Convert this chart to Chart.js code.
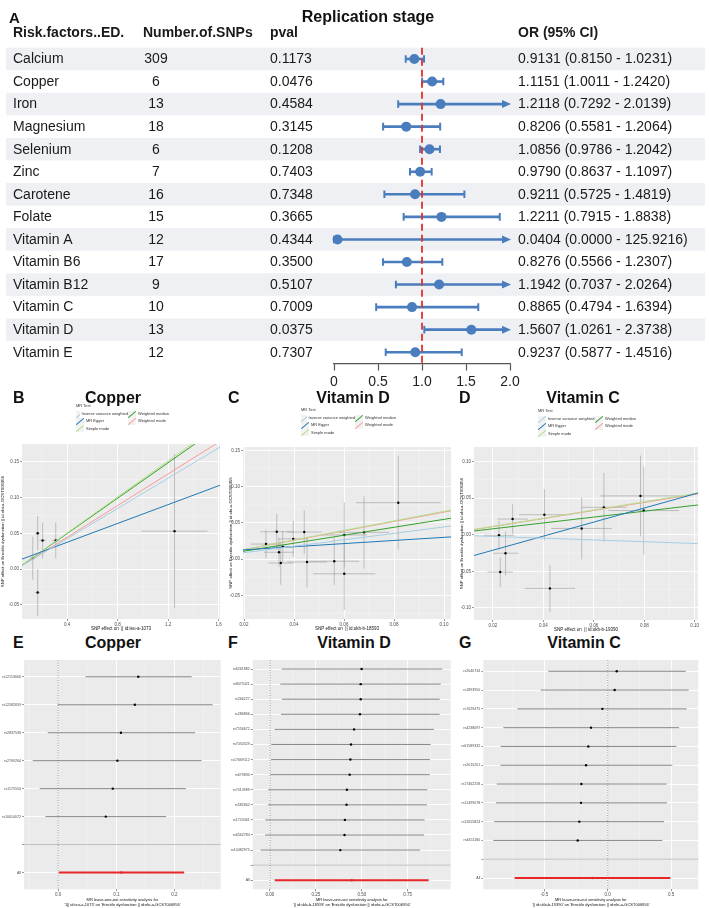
<!DOCTYPE html>
<html lang="en">
<head>
<meta charset="UTF-8">
<title>Replication stage</title>
<style>
  * { box-sizing: border-box; }
  body { margin: 0; background: #fff; font-family: 'Liberation Sans', Arial, Helvetica, sans-serif; color: #111; }
  #page { position: relative; width: 709px; height: 908px; overflow: hidden; }
  .box { position: absolute; }
  .box canvas { display: block; }
  .tag { position: absolute; font-weight: bold; font-size: 16px; line-height: 1; }
  .ttl { position: absolute; font-weight: bold; font-size: 16px; line-height: 1; transform: translateX(-50%); white-space: nowrap; }
  .mrleg { position: absolute; font-size: 4px; line-height: 1; color: #333; }
  .mrleg .lh { margin-bottom: 2.5px; }
  .mrleg .lg { display: grid; grid-auto-flow: column; grid-template-rows: repeat(3, 7.3px); }
  .mrleg .it { display: flex; align-items: center; white-space: nowrap; }
  .mrleg .k { position: relative; width: 8px; height: 7px; background: #f2f2f2; margin-right: 2px; overflow: hidden; }
  .mrleg .k i { position: absolute; left: -1px; top: 3px; width: 10px; height: 0.8px; transform: rotate(-40deg); }
</style>
<script src="https://cdn.jsdelivr.net/npm/chart.js"></script>
</head>
<body>
<div id="page">
  <div class="tag" style="left:9px;top:10px;font-size:15px">A</div>
  <div class="ttl" style="left:368px;top:9px">Replication stage</div>
  <div class="tag" style="left:13px;top:390px">B</div>
  <div class="ttl" style="left:113px;top:390px">Copper</div>
  <div class="tag" style="left:228px;top:390px">C</div>
  <div class="ttl" style="left:353px;top:390px">Vitamin D</div>
  <div class="tag" style="left:459px;top:390px">D</div>
  <div class="ttl" style="left:583px;top:390px">Vitamin C</div>
  <div class="tag" style="left:13px;top:635px">E</div>
  <div class="ttl" style="left:113px;top:635px">Copper</div>
  <div class="tag" style="left:228px;top:635px">F</div>
  <div class="ttl" style="left:354px;top:635px">Vitamin D</div>
  <div class="tag" style="left:459px;top:635px">G</div>
  <div class="ttl" style="left:584px;top:635px">Vitamin C</div>
</div>

<script>
  // ---------- Panel A: replication stage forest table ----------
  const factors = ['Calcium', 'Copper', 'Iron', 'Magnesium', 'Selenium', 'Zinc', 'Carotene', 'Folate',
    'Vitamin A', 'Vitamin B6', 'Vitamin B12', 'Vitamin C', 'Vitamin D', 'Vitamin E'];
  const nSnps = [309, 6, 13, 18, 6, 7, 16, 15, 12, 17, 9, 10, 13, 12];
  const pvals = [0.1173, 0.0476, 0.4584, 0.3145, 0.1208, 0.7403, 0.7348, 0.3665, 0.4344, 0.3500, 0.5107, 0.7009, 0.0375, 0.7307];
  const orVals = [0.9131, 1.1151, 1.2118, 0.8206, 1.0856, 0.9790, 0.9211, 1.2211, 0.0404, 0.8276, 1.1942, 0.8865, 1.5607, 0.9237];
  const orLow = [0.8150, 1.0011, 0.7292, 0.5581, 0.9786, 0.8637, 0.5725, 0.7915, 0.0000, 0.5566, 0.7037, 0.4794, 1.0261, 0.5877];
  const orHigh = [1.0231, 1.2420, 2.0139, 1.2064, 1.2042, 1.1097, 1.4819, 1.8838, 125.9216, 1.2307, 2.0264, 1.6394, 2.3738, 1.4516];
  const orTicks = [0, 0.5, 1, 1.5, 2];

  // ---------- MR scatter panels ----------
  const mrMethods = ['Inverse variance weighted', 'MR Egger', 'Simple mode', 'Weighted median', 'Weighted mode'];
  const mrColors = ['#a6cee3', '#1f78b4', '#b2df8a', '#33a02c', '#fb9a99'];

  const cuBx = [0.128, 0.167, 0.206, 0.31, 1.25, 0.167];
  const cuBy = [0.015, 0.05, 0.04, 0.04, 0.053, -0.033];
  const cuSeX = [0.02, 0.02, 0.025, 0.03, 0.26, 0.02];
  const cuSeY = [0.03, 0.024, 0.025, 0.025, 0.108, 0.033];
  const cuSlope = [0.106, 0.066, 0.126, 0.124, 0.111];
  const cuIntercept = [0, 0.011, 0, 0, 0];

  const vdBx = [0.0288, 0.0331, 0.0355, 0.034, 0.0347, 0.0397, 0.0441, 0.0452, 0.0561, 0.0601, 0.068, 0.0817, 0.0601];
  const vdBy = [0.0208, 0.0378, 0.0172, 0.0095, -0.0054, 0.028, 0.0374, -0.004, -0.003, 0.0334, 0.037, 0.078, -0.0203];
  const vdSeX = [0.006, 0.0066, 0.005, 0.006, 0.005, 0.006, 0.007, 0.008, 0.01, 0.009, 0.01, 0.017, 0.0124];
  const vdSeY = [0.02, 0.025, 0.022, 0.02, 0.03, 0.025, 0.03, 0.035, 0.033, 0.045, 0.05, 0.065, 0.05];
  const vdSlope = [0.445, 0.216, 0.66, 0.55, 0.65];
  const vdIntercept = [0, 0.0085, 0, 0, 0];

  const vcBx = [0.0224, 0.025, 0.0278, 0.0404, 0.0552, 0.064, 0.0785, 0.0798, 0.0229, 0.0426];
  const vcBy = [-0.0008, -0.0253, 0.0213, 0.0272, 0.0085, 0.0373, 0.0529, 0.0329, -0.051, -0.0733];
  const vcSeX = [0.006, 0.005, 0.006, 0.01, 0.012, 0.009, 0.016, 0.014, 0.005, 0.01];
  const vcSeY = [0.02, 0.03, 0.02, 0.035, 0.042, 0.047, 0.055, 0.06, 0.02, 0.032];
  const vcSlope = [-0.12, 0.96, 0.56, 0.40, 0.55];
  const vcIntercept = [0, -0.0404, 0, 0, 0];

  // ---------- leave-one-out panels ----------
  const cuSnps = ['rs12153606', 'rs12582659', 'rs2837536', 'rs2769264', 'rs1175550', 'rs10014072'];
  const cuLooB = [0.138, 0.132, 0.108, 0.102, 0.094, 0.082];
  const cuLooLo = [0.047, -0.001, -0.018, -0.044, -0.032, -0.022];
  const cuLooHi = [0.23, 0.266, 0.236, 0.247, 0.22, 0.186];
  const cuAll = [0.109, 0.001, 0.217];

  const vdSnps = ['rs6261882', 'rs8075421', 'rs266227', 'rs286866', 'rs7556672', 'rs7450329', 'rs17669112',
    'rs679830', 'rs7013989', 'rs582662', 'rs1720361', 'rs6562784', 'rs10482975'];
  const vdLooB = [0.499, 0.494, 0.494, 0.49, 0.458, 0.441, 0.438, 0.434, 0.419, 0.417, 0.408, 0.406, 0.383];
  const vdLooLo = [0.064, 0.056, 0.065, 0.06, 0.025, 0.007, 0.006, 0.002, -0.009, -0.011, -0.025, -0.027, -0.051];
  const vdLooHi = [0.938, 0.93, 0.924, 0.924, 0.893, 0.875, 0.871, 0.87, 0.857, 0.855, 0.842, 0.839, 0.817];
  const vdAll = [0.445, 0.026, 0.864];

  const vcSnps = ['rs2040734', 'rs1893950', 'rs7029475', 'rs4238097', 'rs61589332', 'rs2015201', 'rs17462258',
    'rs11499078', 'rs11655824', 'rs4451180'];
  const vcLooB = [0.071, 0.055, -0.042, -0.132, -0.153, -0.171, -0.208, -0.211, -0.224, -0.237];
  const vcLooLo = [-0.469, -0.529, -0.713, -0.824, -0.845, -0.847, -0.876, -0.882, -0.895, -0.903];
  const vcLooHi = [0.616, 0.639, 0.623, 0.563, 0.542, 0.51, 0.466, 0.468, 0.444, 0.431];
  const vcAll = [-0.1205, -0.735, 0.494];

  const FONT = "'Liberation Sans', Arial, Helvetica, sans-serif";
  const BLUE = '#4a7dbd';
  const outcomeId = 'Erectile dysfunction || id:ebi-a-GCST006956';
  Chart.defaults.font.family = FONT;
  Chart.defaults.color = '#4d4d4d';

  const page = document.getElementById('page');

  // canvas placed so that its chart area lands on the given page box
  function mount(p) {
    const W = Math.round(p.r - p.l + p.wy + p.pr);
    const H = Math.round(p.b - p.t + p.hx);
    const wrap = document.createElement('div');
    wrap.className = 'box';
    wrap.style.left = (p.l - p.wy) + 'px';
    wrap.style.top = p.t + 'px';
    const cv = document.createElement('canvas');
    cv.width = W; cv.height = H;
    cv.style.width = W + 'px'; cv.style.height = H + 'px';
    wrap.appendChild(cv);
    page.insertBefore(wrap, page.firstChild);
    return { cv, padR: W - (p.r - p.l) - p.wy, axisH: H - (p.b - p.t) };
  }

  // grey ggplot panel + minor grid lines
  const ggPanel = {
    id: 'ggPanel',
    beforeDraw(chart, args, opts) {
      const { ctx, chartArea: a } = chart;
      ctx.save();
      ctx.fillStyle = '#ebebeb';
      ctx.fillRect(a.left, a.top, a.right - a.left, a.bottom - a.top);
      ctx.strokeStyle = '#f7f7f7';
      ctx.lineWidth = 0.5;
      (opts.minor || []).forEach(key => {
        const s = chart.scales[key];
        const t = s.ticks.map(k => k.value);
        if (t.length < 2) return;
        const step = t[1] - t[0];
        [t[0] - step / 2, ...t.map(v => v + step / 2)].forEach(v => {
          if (v < Math.min(s.min, s.max) || v > Math.max(s.min, s.max)) return;
          const px = s.getPixelForValue(v);
          ctx.beginPath();
          if (s.isHorizontal()) { ctx.moveTo(px, a.top); ctx.lineTo(px, a.bottom); }
          else { ctx.moveTo(a.left, px); ctx.lineTo(a.right, px); }
          ctx.stroke();
        });
      });
      ctx.restore();
    }
  };

  function axisX(o) {
    return {
      type: 'linear', min: o.min, max: o.max,
      ticks: { stepSize: o.step, includeBounds: false, autoSkip: false, maxRotation: 0, padding: 1,
        font: { size: 4.5 }, color: '#4d4d4d', callback: v => Number(v).toFixed(o.dec) },
      grid: { color: '#fff', lineWidth: 0.9, tickLength: 2, tickColor: '#333', tickWidth: 0.5 },
      border: { display: false },
      title: { display: true, text: o.title, font: { size: o.tsize || 4.5, lineHeight: 1.15 }, color: '#111', padding: { top: 1, bottom: 0 } },
      afterFit: s => { s.height = o.h; }
    };
  }

  // ---------- Panel A ----------
  (function () {
    const { cv } = mount({ l: 0, r: 709, t: 0, b: 395, wy: 0, pr: 0, hx: 0 });
    const forestA = {
      id: 'forestA',
      beforeDraw(chart) {
        const { ctx, scales: { y } } = chart;
        const h = Math.abs(y.getPixelForValue(1) - y.getPixelForValue(0));
        ctx.save();
        ctx.fillStyle = '#eef0f3';
        factors.forEach((f, i) => {
          if (i % 2) return;
          ctx.fillRect(6, y.getPixelForValue(i) - h / 2, 699, h);
        });
        ctx.restore();
      },
      beforeDatasetsDraw(chart) {
        const { ctx, chartArea: a, scales: { x, y } } = chart;
        ctx.save();
        ctx.strokeStyle = BLUE; ctx.fillStyle = BLUE;
        factors.forEach((f, i) => {
          const yc = y.getPixelForValue(i);
          const clipped = orHigh[i] > x.max;
          const x0 = x.getPixelForValue(Math.max(orLow[i], x.min));
          const x1 = x.getPixelForValue(Math.min(orHigh[i], x.max));
          ctx.lineWidth = 2.6;
          ctx.beginPath(); ctx.moveTo(x0, yc); ctx.lineTo(clipped ? x1 - 6 : x1, yc); ctx.stroke();
          ctx.lineWidth = 2;
          ctx.beginPath();
          ctx.moveTo(x0, yc - 3.8); ctx.lineTo(x0, yc + 3.8);
          if (!clipped) { ctx.moveTo(x1, yc - 3.8); ctx.lineTo(x1, yc + 3.8); }
          ctx.stroke();
          if (clipped) {
            ctx.beginPath();
            ctx.moveTo(x1 + 1, yc); ctx.lineTo(x1 - 8, yc - 4); ctx.lineTo(x1 - 8, yc + 4);
            ctx.closePath(); ctx.fill();
          }
        });
        const xr = x.getPixelForValue(1);
        ctx.strokeStyle = '#e3302f'; ctx.lineWidth = 1.8; ctx.setLineDash([7, 4]);
        ctx.beginPath(); ctx.moveTo(xr, a.top); ctx.lineTo(xr, a.bottom); ctx.stroke();
        ctx.restore();
      },
      afterDraw(chart) {
        const { ctx, chartArea: a, scales: { y } } = chart;
        ctx.save();
        ctx.fillStyle = '#1a1a1a';
        ctx.textBaseline = 'middle';
        ctx.font = 'bold 14px ' + FONT;
        const hy = a.top - 15;
        ctx.textAlign = 'left';
        ctx.fillText('Risk.factors..ED.', 13, hy);
        ctx.fillText('Number.of.SNPs', 143, hy);
        ctx.fillText('pval', 270, hy);
        ctx.fillText('OR (95% CI)', 518, hy);
        ctx.font = '14px ' + FONT;
        factors.forEach((f, i) => {
          const yc = y.getPixelForValue(i) + 0.5;
          ctx.textAlign = 'left';
          ctx.fillText(f, 13, yc);
          ctx.fillText(pvals[i].toFixed(4), 270, yc);
          ctx.fillText(orVals[i].toFixed(4) + ' (' + orLow[i].toFixed(4) + ' - ' + orHigh[i].toFixed(4) + ')', 518, yc);
          ctx.textAlign = 'center';
          ctx.fillText(String(nSnps[i]), 156, yc);
        });
        ctx.restore();
      }
    };
    new Chart(cv, {
      type: 'scatter',
      data: { datasets: [{
        data: orVals.map((v, i) => ({ x: v, y: i })),
        pointRadius: 5, pointHoverRadius: 5, backgroundColor: BLUE, borderWidth: 0, clip: false
      }] },
      options: {
        responsive: false, maintainAspectRatio: false, animation: false, events: [],
        layout: { padding: { left: 334, right: 199, top: 47.7, bottom: 0 } },
        plugins: { legend: { display: false }, tooltip: { enabled: false } },
        scales: {
          y: { type: 'linear', min: -0.5, max: factors.length - 0.5, reverse: true, display: false },
          x: {
            type: 'linear', min: orTicks[0], max: orTicks[orTicks.length - 1],
            afterBuildTicks: s => { s.ticks = orTicks.map(v => ({ value: v })); },
            ticks: { font: { size: 14 }, color: '#222', padding: 3, maxRotation: 0, autoSkip: false },
            grid: { drawOnChartArea: false, tickLength: 7, tickColor: '#555', tickWidth: 1.2 },
            border: { display: true, color: '#555', width: 1.2 },
            afterFit: s => { s.height = 31.5; }
          }
        }
      },
      plugins: [forestA]
    });
  })();

  // ---------- MR scatter plots ----------
  function mrScatter(p) {
    const { cv, padR, axisH } = mount(p);
    const errBars = {
      id: 'errBars',
      beforeDatasetsDraw(chart) {
        const { ctx, chartArea: a, scales: { x, y } } = chart;
        ctx.save();
        ctx.beginPath(); ctx.rect(a.left, a.top, a.right - a.left, a.bottom - a.top); ctx.clip();
        ctx.strokeStyle = '#9c9c9c'; ctx.lineWidth = 0.6;
        p.bx.forEach((v, i) => {
          const px = x.getPixelForValue(v), py = y.getPixelForValue(p.by[i]);
          ctx.beginPath();
          ctx.moveTo(px, y.getPixelForValue(p.by[i] - p.sy[i])); ctx.lineTo(px, y.getPixelForValue(p.by[i] + p.sy[i]));
          ctx.moveTo(x.getPixelForValue(v - p.sx[i]), py); ctx.lineTo(x.getPixelForValue(v + p.sx[i]), py);
          ctx.stroke();
        });
        ctx.restore();
      }
    };
    const lines = mrMethods.map((m, k) => ({
      type: 'line', label: m, order: 0,
      data: [p.xmin, p.xmax].map(v => ({ x: v, y: p.icpt[k] + p.slope[k] * v })),
      borderColor: mrColors[k], borderWidth: 1, pointRadius: 0, clip: 0
    }));
    new Chart(cv, {
      type: 'scatter',
      data: { datasets: [{
        type: 'scatter', order: 1, data: p.bx.map((v, i) => ({ x: v, y: p.by[i] })),
        pointRadius: 1.2, backgroundColor: '#000', borderWidth: 0
      }, ...lines] },
      options: {
        responsive: false, maintainAspectRatio: false, animation: false, events: [],
        layout: { padding: { left: 0, right: padR, top: 0, bottom: 0 } },
        plugins: { legend: { display: false }, tooltip: { enabled: false }, ggPanel: { minor: ['x', 'y'] } },
        scales: {
          x: axisX({ min: p.xmin, max: p.xmax, step: p.xstep, dec: p.xdec, title: p.xtitle, h: axisH }),
          y: {
            type: 'linear', min: p.ymin, max: p.ymax,
            ticks: { stepSize: 0.05, includeBounds: false, autoSkip: false, padding: 1,
              font: { size: 4.5 }, color: '#4d4d4d', callback: v => Number(v).toFixed(2) },
            grid: { color: '#fff', lineWidth: 0.9, tickLength: 2, tickColor: '#333', tickWidth: 0.5 },
            border: { display: false },
            title: { display: true, text: 'SNP effect on ' + outcomeId, font: { size: 4.3 }, color: '#111', padding: 0 },
            afterFit: s => { s.width = p.wy; }
          }
        }
      },
      plugins: [ggPanel, errBars]
    });
    // legend (MR Test)
    const lg = document.createElement('div');
    lg.className = 'mrleg';
    lg.style.left = p.legX + 'px';
    lg.style.top = p.legY + 'px';
    lg.innerHTML = '<div class="lh">MR Test</div><div class="lg" style="grid-template-columns:' + p.legCol + 'px auto">' +
      mrMethods.map((m, k) => '<div class="it"><span class="k"><i style="background:' + mrColors[k] + '"></i></span>' + m + '</div>').join('') +
      '</div>';
    page.appendChild(lg);
  }

  mrScatter({ l: 22, r: 220, t: 440, b: 619, wy: 22, pr: 6, hx: 12,
    xmin: 0.043, xmax: 1.61, xstep: 0.4, xdec: 1, ymin: -0.07, ymax: 0.175,
    xtitle: 'SNP effect on  || id:ieu-a-1073',
    bx: cuBx, by: cuBy, sx: cuSeX, sy: cuSeY, slope: cuSlope, icpt: cuIntercept,
    legX: 76, legY: 404, legCol: 52 });
  mrScatter({ l: 243, r: 451, t: 443, b: 619, wy: 15, pr: 5, hx: 12,
    xmin: 0.0196, xmax: 0.1028, xstep: 0.02, xdec: 2, ymin: -0.0828, ymax: 0.155,
    xtitle: 'SNP effect on  || id:ukb-b-18593',
    bx: vdBx, by: vdBy, sx: vdSeX, sy: vdSeY, slope: vdSlope, icpt: vdIntercept,
    legX: 301, legY: 408, legCol: 54 });
  mrScatter({ l: 474, r: 698, t: 443, b: 620, wy: 15, pr: 6, hx: 12,
    xmin: 0.0125, xmax: 0.1013, xstep: 0.02, xdec: 2, ymin: -0.1164, ymax: 0.1196,
    xtitle: 'SNP effect on  || id:ukb-b-19390',
    bx: vcBx, by: vcBy, sx: vcSeX, sy: vcSeY, slope: vcSlope, icpt: vcIntercept,
    legX: 538, legY: 409, legCol: 57 });

  // ---------- leave-one-out plots ----------
  function looPlot(p) {
    const labels = [...p.snps, '', 'All'];
    const n = labels.length;
    const lo = [...p.lo, null, p.all[1]];
    const hi = [...p.hi, null, p.all[2]];
    const { cv, padR, axisH } = mount(p);
    const looBars = {
      id: 'looBars',
      beforeDatasetsDraw(chart) {
        const { ctx, chartArea: a, scales: { x, y } } = chart;
        ctx.save();
        const yb = y.getPixelForValue(n - 2);
        ctx.strokeStyle = '#bebebe'; ctx.lineWidth = 1;
        ctx.beginPath(); ctx.moveTo(a.left, yb); ctx.lineTo(a.right, yb); ctx.stroke();
        const x0 = x.getPixelForValue(0);
        ctx.strokeStyle = '#555'; ctx.lineWidth = 0.6; ctx.setLineDash([1, 1.5]);
        ctx.beginPath(); ctx.moveTo(x0, a.top); ctx.lineTo(x0, a.bottom); ctx.stroke();
        ctx.setLineDash([]);
        labels.forEach((s, i) => {
          if (lo[i] === null) return;
          const isAll = i === n - 1;
          const yc = y.getPixelForValue(i);
          ctx.strokeStyle = isAll ? '#e8262a' : '#6a6a6a';
          ctx.lineWidth = isAll ? 1.9 : 0.8;
          ctx.beginPath(); ctx.moveTo(x.getPixelForValue(lo[i]), yc); ctx.lineTo(x.getPixelForValue(hi[i]), yc); ctx.stroke();
        });
        ctx.restore();
      }
    };
    const pts = [...p.beta.map((v, i) => ({ x: v, y: i })), { x: p.all[0], y: n - 1 }];
    new Chart(cv, {
      type: 'scatter',
      data: { datasets: [{
        data: pts, pointRadius: 1.2, borderWidth: 0,
        backgroundColor: pts.map((d, i) => i === pts.length - 1 ? '#e8262a' : '#000')
      }] },
      options: {
        responsive: false, maintainAspectRatio: false, animation: false, events: [],
        layout: { padding: { left: 0, right: padR, top: 0, bottom: 0 } },
        plugins: { legend: { display: false }, tooltip: { enabled: false }, ggPanel: { minor: ['x'] } },
        scales: {
          x: axisX({ min: p.xmin, max: p.xmax, step: p.xstep, dec: p.xdec, h: axisH, tsize: 4,
            title: ['MR leave-one-out sensitivity analysis for', p.xlab] }),
          y: {
            type: 'linear', min: -0.6, max: n - 0.4, reverse: true,
            ticks: { stepSize: 1, includeBounds: false, autoSkip: false, padding: 1,
              font: { size: 3.6 }, color: '#4d4d4d', callback: v => labels[v] || '' },
            grid: { color: '#fff', lineWidth: 0.9, tickLength: 2, tickColor: '#333', tickWidth: 0.5 },
            border: { display: false },
            afterFit: s => { s.width = p.wy; }
          }
        }
      },
      plugins: [ggPanel, looBars]
    });
  }

  looPlot({ l: 24, r: 220.7, t: 656, b: 889.3, wy: 24, pr: 5, hx: 18,
    xmin: -0.059, xmax: 0.28, xstep: 0.1, xdec: 1,
    xlab: "'1|| id:ieu-a-1073' on '" + outcomeId + "'",
    snps: cuSnps, beta: cuLooB, lo: cuLooLo, hi: cuLooHi, all: cuAll });
  looPlot({ l: 252.7, r: 450.7, t: 656, b: 889.3, wy: 22.7, pr: 5, hx: 18,
    xmin: -0.094, xmax: 0.984, xstep: 0.25, xdec: 2,
    xlab: "'|| id:ukb-b-18593' on '" + outcomeId + "'",
    snps: vdSnps, beta: vdLooB, lo: vdLooLo, hi: vdLooHi, all: vdAll });
  looPlot({ l: 483.3, r: 698.3, t: 656, b: 889.3, wy: 22.3, pr: 5, hx: 18,
    xmin: -0.982, xmax: 0.715, xstep: 0.5, xdec: 1,
    xlab: "'|| id:ukb-b-19390' on '" + outcomeId + "'",
    snps: vcSnps, beta: vcLooB, lo: vcLooLo, hi: vcLooHi, all: vcAll });
</script>
</body>
</html>
